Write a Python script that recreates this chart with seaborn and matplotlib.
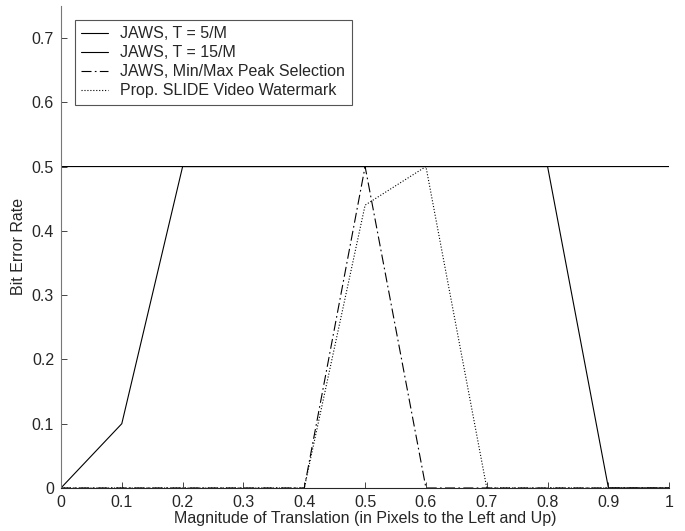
from matplotlib import pyplot as plt
import pandas as pd
import seaborn as sns

x = [0, 0.1, 0.2, 0.3, 0.4, 0.5, 0.6, 0.7, 0.8, 0.9, 1.0]
jaws_t5 = [0, 0.1, 0.5, 0.5, 0.5, 0.5, 0.5, 0.5, 0.5, 0.5, 0.5]
jaws_t15 = [0.5, 0.5, 0.5, 0.5, 0.5, 0.5, 0.5, 0.5, 0.5, 0, 0]
jaws_minmax = [0, 0, 0, 0, 0, 0.5, 0, 0, 0, 0, 0]
slide = [0, 0, 0, 0, 0, 0.44, 0.5, 0, 0, 0, 0]
labels = ['JAWS, T = 5/M', 'JAWS, T = 15/M',
          'JAWS, Min/Max Peak Selection', 'Prop. SLIDE Video Watermark']

frames = []
for lab, ys in zip(labels, [jaws_t5, jaws_t15, jaws_minmax, slide]):
    frames.append(pd.DataFrame({'x': x, 'y': ys, 'series': lab}))
df = pd.concat(frames)

sns.set_style("ticks")
plt.rcParams['font.family'] = ['Liberation Sans', 'DejaVu Sans']
plt.rcParams['xtick.direction'] = 'in'
plt.rcParams['ytick.direction'] = 'in'

fig = plt.figure(figsize=(6.85, 5.31), dpi=100)
ax = fig.add_axes([0.089, 0.081, 0.888, 0.908])

styles = ['-', '-', (0, (9, 3, 1.5, 3)), ':']
for lab, ls in zip(labels, styles):
    d = df[df['series'] == lab]
    sns.lineplot(data=d, x='x', y='y', ax=ax, color='black', linewidth=0.8,
                 linestyle=ls, label=lab)

fs = 11.5
ax.set_xlim(0, 1)
ax.set_ylim(0, 0.75)
ax.set_xticks([0, 0.1, 0.2, 0.3, 0.4, 0.5, 0.6, 0.7, 0.8, 0.9, 1])
ax.set_xticklabels(['0', '0.1', '0.2', '0.3', '0.4', '0.5', '0.6', '0.7', '0.8', '0.9', '1'])
ax.set_yticks([0, 0.1, 0.2, 0.3, 0.4, 0.5, 0.6, 0.7])
ax.set_yticklabels(['0', '0.1', '0.2', '0.3', '0.4', '0.5', '0.6', '0.7'])
ax.tick_params(labelsize=fs, length=4, width=0.6, pad=5)
for s in ['top', 'right']:
    ax.spines[s].set_visible(False)
for s in ['left', 'bottom']:
    ax.spines[s].set_linewidth(0.8)
ax.spines['left'].set_color('#777777')
ax.set_xlabel('Magnitude of Translation (in Pixels to the Left and Up)', fontsize=fs, labelpad=1)
ax.set_ylabel('Bit Error Rate', fontsize=fs, labelpad=4)

leg = ax.legend(loc='upper left', bbox_to_anchor=(0.023, 0.971), fontsize=fs,
                frameon=True, fancybox=False, edgecolor='#555555', framealpha=1,
                borderpad=0.4, labelspacing=0.25, handlelength=1.7,
                handletextpad=0.75, borderaxespad=0)
leg.get_frame().set_linewidth(0.8)

fig.savefig('out.png', dpi=100)
